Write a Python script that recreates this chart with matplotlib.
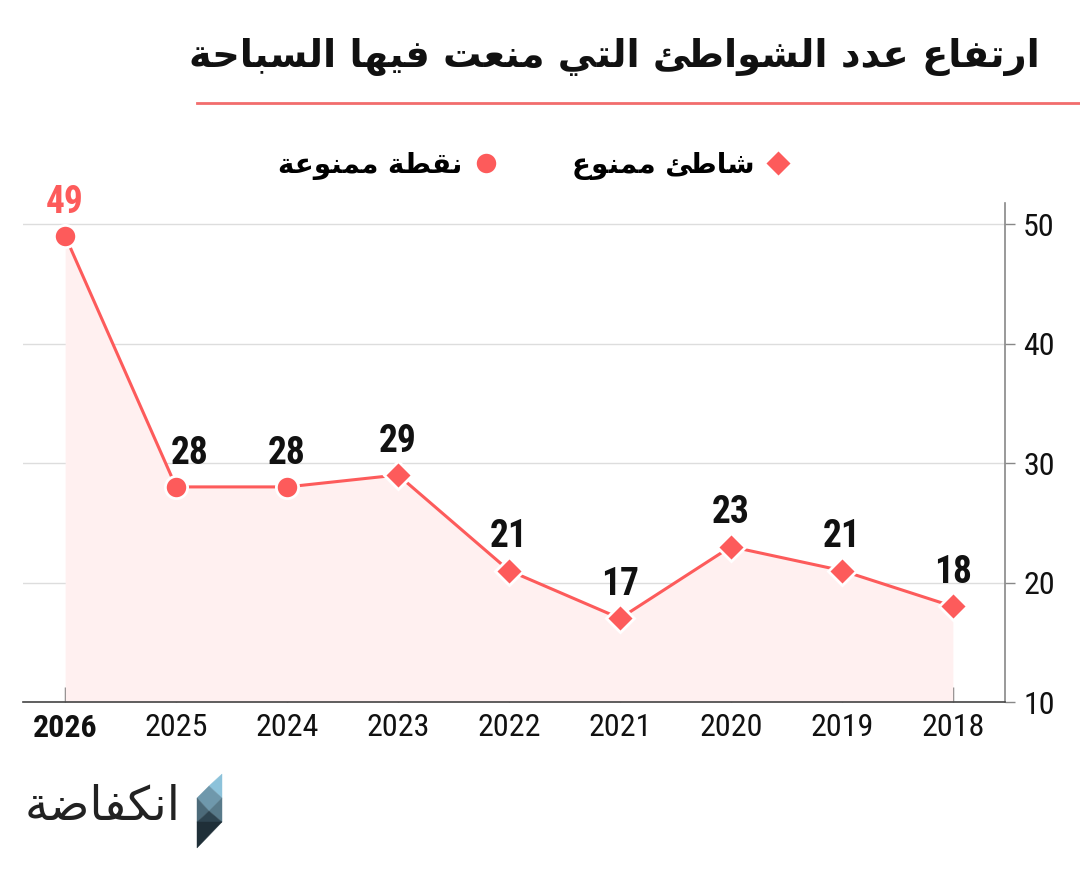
import numpy as np
import matplotlib
matplotlib.use("Agg")
import matplotlib.pyplot as plt
from matplotlib import font_manager
from matplotlib.lines import Line2D
from matplotlib.patches import Polygon

# data
years = ['2026', '2025', '2024', '2023', '2022', '2021', '2020', '2019', '2018']
values = [49, 28, 28, 29, 21, 17, 23, 21, 18]
kinds = ['point', 'point', 'point', 'beach', 'beach', 'beach', 'beach', 'beach', 'beach']
yticks = [10, 20, 30, 40, 50]

title = 'ارتفاع عدد الشواطئ التي منعت فيها السباحة'
label_point = 'نقطة ممنوعة'
label_beach = 'شاطئ ممنوع'
brand = 'انكفاضة'

RED = '#fd5b5b'
FILL = '#fff0f0'

# --- minimal arabic shaping (matplotlib has no bidi / joining) ---
_letters = [('ء', 0xFE80, 1), ('آ', 0xFE81, 2), ('أ', 0xFE83, 2), ('ؤ', 0xFE85, 2),
            ('إ', 0xFE87, 2), ('ئ', 0xFE89, 4), ('ا', 0xFE8D, 2), ('ب', 0xFE8F, 4),
            ('ة', 0xFE93, 2), ('ت', 0xFE95, 4), ('ث', 0xFE99, 4), ('ج', 0xFE9D, 4),
            ('ح', 0xFEA1, 4), ('خ', 0xFEA5, 4), ('د', 0xFEA9, 2), ('ذ', 0xFEAB, 2),
            ('ر', 0xFEAD, 2), ('ز', 0xFEAF, 2), ('س', 0xFEB1, 4), ('ش', 0xFEB5, 4),
            ('ص', 0xFEB9, 4), ('ض', 0xFEBD, 4), ('ط', 0xFEC1, 4), ('ظ', 0xFEC5, 4),
            ('ع', 0xFEC9, 4), ('غ', 0xFECD, 4), ('ف', 0xFED1, 4), ('ق', 0xFED5, 4),
            ('ك', 0xFED9, 4), ('ل', 0xFEDD, 4), ('م', 0xFEE1, 4), ('ن', 0xFEE5, 4),
            ('ه', 0xFEE9, 4), ('و', 0xFEED, 2), ('ى', 0xFEEF, 2), ('ي', 0xFEF1, 4)]
FORMS = {c: [chr(s + k) for k in range(n)] for c, s, n in _letters}
LAMALEF = {'ا': (0xFEFB, 0xFEFC), 'آ': (0xFEF5, 0xFEF6), 'أ': (0xFEF7, 0xFEF8), 'إ': (0xFEF9, 0xFEFA)}


def shape(text):
    out = []
    i = 0
    while i < len(text):
        c = text[i]
        prev = text[i - 1] if i > 0 else ''
        nxt = text[i + 1] if i + 1 < len(text) else ''
        if c not in FORMS:
            out.append(c)
            i += 1
            continue
        join_prev = prev in FORMS and len(FORMS[prev]) == 4 and len(FORMS[c]) >= 2
        if c == 'ل' and nxt in LAMALEF:
            out.append(chr(LAMALEF[nxt][1 if join_prev else 0]))
            i += 2
            continue
        join_next = len(FORMS[c]) == 4 and nxt in FORMS and len(FORMS[nxt]) >= 2
        if join_prev and join_next:
            f = 3
        elif join_prev:
            f = 1
        elif join_next:
            f = 2
        else:
            f = 0
        out.append(FORMS[c][f])
        i += 1
    return ''.join(out)[::-1]


# pick a narrow face for the numbers
names = {f.name for f in font_manager.fontManager.ttflist}
if 'Roboto Condensed' in names:
    NUM = dict(family='Roboto Condensed')
elif 'Liberation Sans Narrow' in names:
    NUM = dict(family='Liberation Sans Narrow')
else:
    NUM = dict(family='DejaVu Sans', stretch='condensed')

AR = ['DejaVu Sans']

fig = plt.figure(figsize=(10.8, 8.75), dpi=100)
ax = fig.add_axes([23 / 1080, 1 - 702 / 875, (1005 - 23) / 1080, (702 - 203) / 875])

x = np.arange(len(years))
ax.fill_between(x, 10, values, color=FILL, lw=0, zorder=1)
ax.plot(x, values, color=RED, lw=2.2, zorder=3)
for kind, mk, ms in [('point', 'o', 16), ('beach', 'D', 14)]:
    idx = [i for i, k in enumerate(kinds) if k == kind]
    ax.plot(x[idx], [values[i] for i in idx], ls='none', marker=mk, ms=ms,
            mfc=RED, mec='white', mew=2, zorder=4)

for i, v in enumerate(values):
    dx = 10 if i == 1 else 0  # keep the label clear of the steep segment
    ax.annotate(str(v), (x[i], v), xytext=(dx, 11), textcoords='offset points',
                ha='center', va='bottom', fontsize=27, fontweight='bold',
                color=RED if i == 0 else '#111111', zorder=5, **NUM)

ax.set_xlim(-0.38, 8.47)
ax.set_ylim(10, 51.76)
ax.set_yticks(yticks)
ax.set_xticks(x)
ax.set_xticklabels(years)
ax.yaxis.tick_right()
ax.yaxis.grid(True, color='#dddddd', lw=1)
ax.set_axisbelow(True)
for s in ['left', 'top']:
    ax.spines[s].set_visible(False)
ax.spines['right'].set_color('#888888')
ax.spines['right'].set_linewidth(1.2)
ax.spines['bottom'].set_color('#444444')
ax.spines['bottom'].set_linewidth(1.2)
ax.tick_params(axis='x', direction='in', length=11, width=1, color='#666666', pad=8)
ax.tick_params(axis='y', direction='out', length=7, width=1, color='#888888', pad=6)
for lab in ax.get_xticklabels() + ax.get_yticklabels():
    lab.set_fontsize(23)
    lab.set_color('#111111')
    lab.set_fontfamily(NUM['family'])
    if 'stretch' in NUM:
        lab.set_fontstretch(NUM['stretch'])
ax.get_xticklabels()[0].set_fontweight('bold')

# title and rule
fig.text(1040 / 1080, 1 - 57 / 875, shape(title), ha='right', va='center',
         fontsize=27.5, fontweight='bold', family=AR, color='#111111')
fig.add_artist(Line2D([197 / 1080, 1.0], [1 - 103 / 875] * 2, color='#f26d6d', lw=2))

# legend (right to left)
handles = [Line2D([], [], ls='none', marker='o', ms=16, mfc=RED, mec='white', mew=2),
           Line2D([], [], ls='none', marker='D', ms=14, mfc=RED, mec='white', mew=2)]
fig.legend(handles, [shape(label_point), shape(label_beach)], loc='center',
           bbox_to_anchor=(535 / 1080, 1 - 165 / 875), ncol=2, frameon=False,
           markerfirst=False, columnspacing=2.6, handlelength=1.0, handletextpad=0.35,
           prop=dict(family=AR, weight='bold', size=20))

# logo
fig.text(180 / 1080, 1 - 808 / 875, shape(brand), ha='right', va='center',
         fontsize=34, family=AR, color='#222222')
px = lambda pts: [(a / 1080, 1 - b / 875) for a, b in pts]
logo = [
    ([(222, 774), (209, 786), (222, 798)], '#8cc2da'),
    ([(209, 786), (197, 798), (209, 811), (222, 798)], '#6f98ac'),
    ([(197, 798), (197, 822), (209, 811)], '#4c6a79'),
    ([(222, 798), (222, 822), (209, 811)], '#587a8a'),
    ([(209, 811), (197, 822), (222, 822)], '#2e4450'),
    ([(197, 822), (197, 848), (222, 822)], '#1f2f38'),
]
for pts, col in logo:
    fig.add_artist(Polygon(px(pts), closed=True, fc=col, ec=col, lw=0.3))

fig.savefig('out.png', dpi=100, facecolor='white')
